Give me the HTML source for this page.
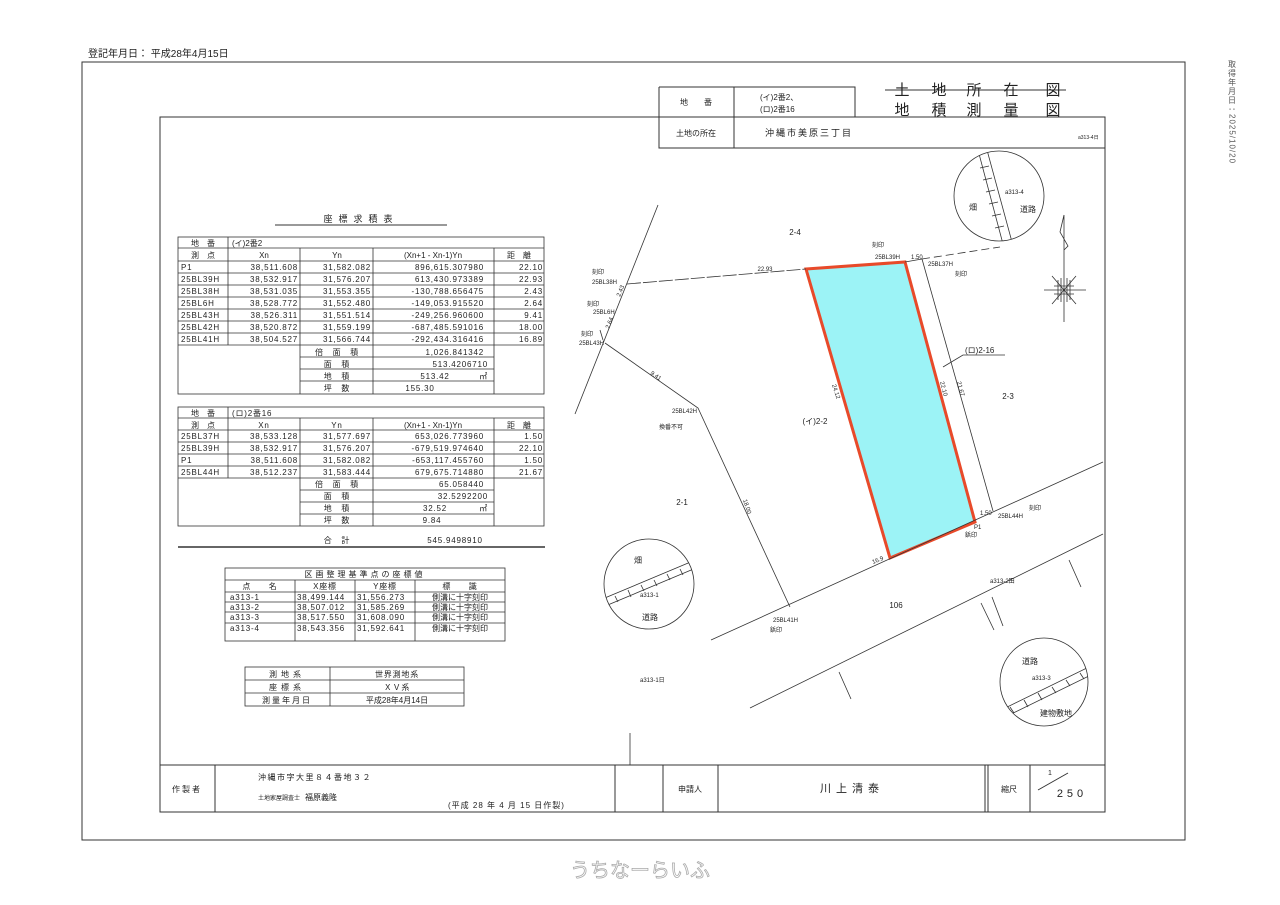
<!DOCTYPE html>
<html><head><meta charset="utf-8"><style>
body{margin:0;background:#fff;}
svg{display:block;font-family:"Liberation Sans","Noto Sans CJK JP",sans-serif;}
</style></head><body>
<svg width="1280" height="905" viewBox="0 0 1280 905" xmlns="http://www.w3.org/2000/svg">
<defs>
<clipPath id="c1"><circle cx="999" cy="196" r="45"/></clipPath>
<clipPath id="c2"><circle cx="649" cy="584" r="45"/></clipPath>
<clipPath id="c3"><circle cx="1044" cy="682" r="44"/></clipPath>
</defs>
<rect width="1280" height="905" fill="#fff"/>
<g stroke="#333" fill="none" stroke-width="1">
<!-- outer frame -->
<path d="M82 62H1185V840H82Z"/>
<!-- inner frame -->
<path d="M160 117H1105V812H160Z"/>
<!-- header -->
<path d="M659 87H855V117M734 87V148M659 87V148H1105"/>
<!-- title strike -->
<line x1="885" y1="90" x2="1066" y2="90"/>
<!-- bottom block -->
<line x1="160" y1="765" x2="1105" y2="765"/>
<line x1="215" y1="765" x2="215" y2="812"/>
<line x1="615" y1="765" x2="615" y2="812"/>
<line x1="663" y1="765" x2="663" y2="812"/>
<line x1="718" y1="765" x2="718" y2="812"/>
<line x1="985" y1="765" x2="985" y2="812"/>
<line x1="988" y1="765" x2="988" y2="812"/>
<line x1="1030" y1="765" x2="1030" y2="812"/>
<line x1="1038" y1="790" x2="1068" y2="773"/>
<!-- title of table underline -->
<line x1="275" y1="225" x2="447" y2="225"/>
</g>
<!-- TABLE 1 -->
<g stroke="#333" fill="none" stroke-width="0.8">
<rect x="178" y="237" width="366" height="157"/>
<path d="M178 248H544M178 261H544M178 273H544M178 285H544M178 297H544M178 309H544M178 321H544M178 333H544M178 345H544"/>
<path d="M300 357H494M300 369H494M300 381H494"/>
<path d="M228 237V345M300 248V394M373 248V394M494 248V394"/>
<!-- TABLE 2 -->
<rect x="178" y="407" width="366" height="119"/>
<path d="M178 418H544M178 430H544M178 442H544M178 454H544M178 466H544M178 478H544M300 490H494M300 502H494M300 514H494"/>
<path d="M228 407V478M300 418V526M373 418V526M494 418V526"/>
<line x1="178" y1="547" x2="545" y2="547" stroke-width="1.6"/>
<!-- TABLE 3 -->
<rect x="225" y="568" width="280" height="73"/>
<path d="M225 580H505M225 592H505M225 602H505M225 612H505M225 623H505"/>
<path d="M295 580V641M355 580V641M415 580V641"/>
<!-- TABLE 4 -->
<rect x="245" y="667" width="219" height="39"/>
<path d="M245 680H464M245 693H464M330 667V706"/>
</g>
<g font-size="8" fill="#222">
<text x="361" y="222" text-anchor="middle" font-size="9" letter-spacing="6">座標求積表</text>
<text x="203" y="246" text-anchor="middle">地　番</text><text x="232" y="246">(イ)2番2</text>
<text x="203" y="258" text-anchor="middle">測　点</text><text x="264" y="258" text-anchor="middle">Xn</text><text x="337" y="258" text-anchor="middle">Yn</text><text x="433" y="258" text-anchor="middle">(Xn+1 - Xn-1)Yn</text><text x="519" y="258" text-anchor="middle">距　離</text>
</g>
<g font-size="8" fill="#222" letter-spacing="0.8">
<g text-anchor="start"><text x="181" y="270">P1</text><text x="181" y="282">25BL39H</text><text x="181" y="294">25BL38H</text><text x="181" y="306">25BL6H</text><text x="181" y="318">25BL43H</text><text x="181" y="330">25BL42H</text><text x="181" y="342">25BL41H</text></g>
<g text-anchor="end"><text x="298" y="270">38,511.608</text><text x="298" y="282">38,532.917</text><text x="298" y="294">38,531.035</text><text x="298" y="306">38,528.772</text><text x="298" y="318">38,526.311</text><text x="298" y="330">38,520.872</text><text x="298" y="342">38,504.527</text></g>
<g text-anchor="end"><text x="371" y="270">31,582.082</text><text x="371" y="282">31,576.207</text><text x="371" y="294">31,553.355</text><text x="371" y="306">31,552.480</text><text x="371" y="318">31,551.514</text><text x="371" y="330">31,559.199</text><text x="371" y="342">31,566.744</text></g>
<g text-anchor="end"><text x="484" y="270">896,615.307980</text><text x="484" y="282">613,430.973389</text><text x="484" y="294">-130,788.656475</text><text x="484" y="306">-149,053.915520</text><text x="484" y="318">-249,256.960600</text><text x="484" y="330">-687,485.591016</text><text x="484" y="342">-292,434.316416</text></g>
<g text-anchor="end"><text x="543" y="270">22.10</text><text x="543" y="282">22.93</text><text x="543" y="294">2.43</text><text x="543" y="306">2.64</text><text x="543" y="318">9.41</text><text x="543" y="330">18.00</text><text x="543" y="342">16.89</text></g>
<text x="337" y="355" text-anchor="middle">倍　面　積</text><text x="337" y="367" text-anchor="middle">面　積</text><text x="337" y="379" text-anchor="middle">地　積</text><text x="337" y="391" text-anchor="middle">坪　数</text>
<text x="484" y="355" text-anchor="end">1,026.841342</text><text x="488" y="367" text-anchor="end">513.4206710</text><text x="435" y="379" text-anchor="middle">513.42</text><text x="488" y="379" text-anchor="end">㎡</text><text x="420" y="391" text-anchor="middle">155.30</text>
<!-- table 2 -->
<text x="203" y="416" text-anchor="middle" letter-spacing="0">地　番</text><text x="232" y="416">(ロ)2番16</text>
<text x="203" y="428" text-anchor="middle" letter-spacing="0">測　点</text><text x="264" y="428" text-anchor="middle">Xn</text><text x="337" y="428" text-anchor="middle">Yn</text><text x="433" y="428" text-anchor="middle" letter-spacing="0">(Xn+1 - Xn-1)Yn</text><text x="519" y="428" text-anchor="middle" letter-spacing="0">距　離</text>
<g><text x="181" y="439">25BL37H</text><text x="181" y="451">25BL39H</text><text x="181" y="463">P1</text><text x="181" y="475">25BL44H</text></g>
<g text-anchor="end"><text x="298" y="439">38,533.128</text><text x="298" y="451">38,532.917</text><text x="298" y="463">38,511.608</text><text x="298" y="475">38,512.237</text></g>
<g text-anchor="end"><text x="371" y="439">31,577.697</text><text x="371" y="451">31,576.207</text><text x="371" y="463">31,582.082</text><text x="371" y="475">31,583.444</text></g>
<g text-anchor="end"><text x="484" y="439">653,026.773960</text><text x="484" y="451">-679,519.974640</text><text x="484" y="463">-653,117.455760</text><text x="484" y="475">679,675.714880</text></g>
<g text-anchor="end"><text x="543" y="439">1.50</text><text x="543" y="451">22.10</text><text x="543" y="463">1.50</text><text x="543" y="475">21.67</text></g>
<text x="337" y="487" text-anchor="middle">倍　面　積</text><text x="337" y="499" text-anchor="middle">面　積</text><text x="337" y="511" text-anchor="middle">地　積</text><text x="337" y="523" text-anchor="middle">坪　数</text>
<text x="484" y="487" text-anchor="end">65.058440</text><text x="488" y="499" text-anchor="end">32.5292200</text><text x="435" y="511" text-anchor="middle">32.52</text><text x="488" y="511" text-anchor="end">㎡</text><text x="432" y="523" text-anchor="middle">9.84</text>
<text x="337" y="543" text-anchor="middle">合　計</text><text x="455" y="543" text-anchor="middle">545.9498910</text>
<!-- table 3 -->
<text x="365" y="577" text-anchor="middle" letter-spacing="3">区画整理基準点の座標値</text>
<text x="260" y="589" text-anchor="middle">点　　名</text><text x="325" y="589" text-anchor="middle">X座標</text><text x="385" y="589" text-anchor="middle">Y座標</text><text x="460" y="589" text-anchor="middle">標　　識</text>
<g><text x="230" y="600">a313-1</text><text x="230" y="610">a313-2</text><text x="230" y="620">a313-3</text><text x="230" y="631">a313-4</text></g>
<g><text x="297" y="600">38,499.144</text><text x="297" y="610">38,507.012</text><text x="297" y="620">38,517.550</text><text x="297" y="631">38,543.356</text></g>
<g><text x="357" y="600">31,556.273</text><text x="357" y="610">31,585.269</text><text x="357" y="620">31,608.090</text><text x="357" y="631">31,592.641</text></g>
<g text-anchor="middle" letter-spacing="0"><text x="460" y="600">側溝に十字刻印</text><text x="460" y="610">側溝に十字刻印</text><text x="460" y="620">側溝に十字刻印</text><text x="460" y="631">側溝に十字刻印</text></g>
<!-- table 4 -->
<text x="287" y="677" text-anchor="middle" letter-spacing="4">測地系</text><text x="397" y="677" text-anchor="middle">世界測地系</text>
<text x="287" y="690" text-anchor="middle" letter-spacing="4">座標系</text><text x="397" y="690" text-anchor="middle">ＸＶ系</text>
<text x="287" y="703" text-anchor="middle" letter-spacing="2">測量年月日</text><text x="397" y="703" text-anchor="middle" letter-spacing="0">平成28年4月14日</text>
</g>
<!-- header texts -->
<g fill="#222">
<text x="88" y="57" font-size="10">登記年月日： 平成28年4月15日</text>
<text x="696" y="105" font-size="8" text-anchor="middle">地　　番</text>
<text x="760" y="100" font-size="8">(イ)2番2、</text>
<text x="760" y="112" font-size="8">(ロ)2番16</text>
<text x="696" y="136" font-size="8" text-anchor="middle">土地の所在</text>
<text x="765" y="136" font-size="9" letter-spacing="2">沖縄市美原三丁目</text>
<text x="1078" y="139" font-size="5">a313-4日</text>
<g font-size="15" text-anchor="middle"><text x="902" y="95">土</text><text x="939" y="95">地</text><text x="974" y="95">所</text><text x="1011" y="95">在</text><text x="1053" y="95">図</text>
<text x="902" y="115">地</text><text x="939" y="115">積</text><text x="974" y="115">測</text><text x="1011" y="115">量</text><text x="1053" y="115">図</text></g>
<text x="187" y="792" font-size="8" text-anchor="middle" letter-spacing="2">作製者</text>
<text x="258" y="780" font-size="8" letter-spacing="1.5">沖縄市字大里８４番地３２</text>
<text x="258" y="800" font-size="6">土地家屋調査士</text><text x="305" y="800" font-size="8">福原義隆</text>
<text x="448" y="808" font-size="8" letter-spacing="1">(平成 28 年 4 月 15 日作製)</text>
<text x="690" y="792" font-size="8" text-anchor="middle">申請人</text>
<text x="852" y="792" font-size="11" text-anchor="middle" letter-spacing="5">川上清泰</text>
<text x="1009" y="792" font-size="8" text-anchor="middle">縮尺</text>
<text x="1048" y="775" font-size="7">1</text>
<text x="1072" y="797" font-size="11" text-anchor="middle" letter-spacing="4">250</text>
<text x="1232" y="60" font-size="8" writing-mode="tb" letter-spacing="1" fill="#555">取得年月日：2025/10/20</text>
<text x="640" y="877" font-size="20" text-anchor="middle" fill="#fff" stroke="#aaa" stroke-width="0.8">うちなーらいふ</text>
</g>
<!-- DRAWING -->
<polygon points="806,269 905,262 975,522 890,558" fill="#9cf3f6" stroke="#e84a2a" stroke-width="3"/>
<g stroke="#333" fill="none" stroke-width="0.8">
<path d="M658 205Q620 300 575 414"/>
<path d="M627 284L806 269" stroke-dasharray="14 2"/>
<path d="M905 262L922 259"/>
<path d="M922 259L1000 247" stroke-dasharray="8 4"/>
<path d="M922 259L993 511"/>
<path d="M605 343L698 408L790 607"/>
<path d="M711 640L1103 462"/>
<path d="M750 708L1103 534"/>
<path d="M981 603L994 630M992 597L1003 626M839 672L851 699M1069 560L1081 587M630 733V765"/>
<path d="M943 367L963 355H1005"/>
<path d="M600 330L603 340" />
<!-- circles -->
<circle cx="999" cy="196" r="45"/>
<circle cx="649" cy="584" r="45"/>
<circle cx="1044" cy="682" r="44"/>
<g clip-path="url(#c1)"><path d="M978 150L1003 244M987 150L1012 242M980 168L989 166M983 180L992 178M986 192L995 190M989 204L998 202M992 216L1001 214M995 228L1004 226"/></g>
<g clip-path="url(#c2)"><path d="M600 600L700 558M603 607L703 565M615 596L618 602M628 590L631 597M641 585L644 591M654 580L657 586M667 574L670 580M680 569L683 575"/></g>
<g clip-path="url(#c3)"><path d="M995 713L1095 664M999 720L1099 671M1010 707L1014 713M1024 700L1028 707M1038 693L1042 700M1052 687L1056 693M1066 680L1070 686M1080 673L1084 679"/></g>
<!-- north arrow -->
<path d="M1064 215V322M1064 215L1060 232L1068 246L1064 250"/>
<path d="M1044 290H1086M1052 276L1076 304M1076 276L1052 304"/>
<path d="M1058 280V300M1061 278V302M1067 278V302M1070 280V300M1054 286H1074M1054 294H1074"/>
</g>
<g fill="#222" font-size="6">
<text x="795" y="235" font-size="8" text-anchor="middle">2-4</text>
<text x="872" y="247">刻印</text>
<text x="875" y="259">25BL39H</text>
<text x="911" y="259">1.50</text>
<text x="928" y="266">25BL37H</text>
<text x="955" y="276">刻印</text>
<text x="592" y="274">刻印</text>
<text x="592" y="284">25BL38H</text>
<text x="765" y="271" text-anchor="middle">22.93</text>
<text x="587" y="306">刻印</text>
<text x="593" y="314">25BL6H</text>
<text x="581" y="336">刻印</text>
<text x="579" y="345">25BL43H</text>
<text x="620" y="297" transform="rotate(-68 620 297)">2.43</text>
<text x="609" y="329" transform="rotate(-68 609 329)">2.64</text>
<text x="650" y="374" transform="rotate(35 650 374)">9.41</text>
<text x="672" y="413">25BL42H</text>
<text x="659" y="429">換番不可</text>
<text x="815" y="424" font-size="8" text-anchor="middle">(イ)2-2</text>
<text x="832" y="385" transform="rotate(72 832 385)">24.12</text>
<text x="940" y="382" transform="rotate(75 940 382)">22.10</text>
<text x="957" y="382" transform="rotate(75 957 382)">21.67</text>
<text x="965" y="353" font-size="8">(ロ)2-16</text>
<text x="1008" y="399" font-size="8" text-anchor="middle">2-3</text>
<text x="682" y="505" font-size="8" text-anchor="middle">2-1</text>
<text x="743" y="500" transform="rotate(72 743 500)">18.00</text>
<text x="980" y="515">1.50</text>
<text x="998" y="518">25BL44H</text>
<text x="1029" y="510">刻印</text>
<text x="974" y="529">P1</text>
<text x="965" y="537">鋲印</text>
<text x="873" y="564" transform="rotate(-22 873 564)">16.9</text>
<text x="990" y="583">a313-2田</text>
<text x="896" y="608" font-size="8" text-anchor="middle">106</text>
<text x="773" y="622">25BL41H</text>
<text x="770" y="632">鋲印</text>
<text x="640" y="682">a313-1日</text>
<text x="638" y="563" font-size="8" text-anchor="middle">畑</text>
<text x="640" y="597">a313-1</text>
<text x="650" y="620" font-size="8" text-anchor="middle">道路</text>
<text x="973" y="210" font-size="8" text-anchor="middle">畑</text>
<text x="1005" y="194">a313-4</text>
<text x="1028" y="212" font-size="8" text-anchor="middle">道路</text>
<text x="1030" y="664" font-size="8" text-anchor="middle">道路</text>
<text x="1032" y="680">a313-3</text>
<text x="1056" y="716" font-size="8" text-anchor="middle">建物敷地</text>
</g>
</svg>
</body></html>
